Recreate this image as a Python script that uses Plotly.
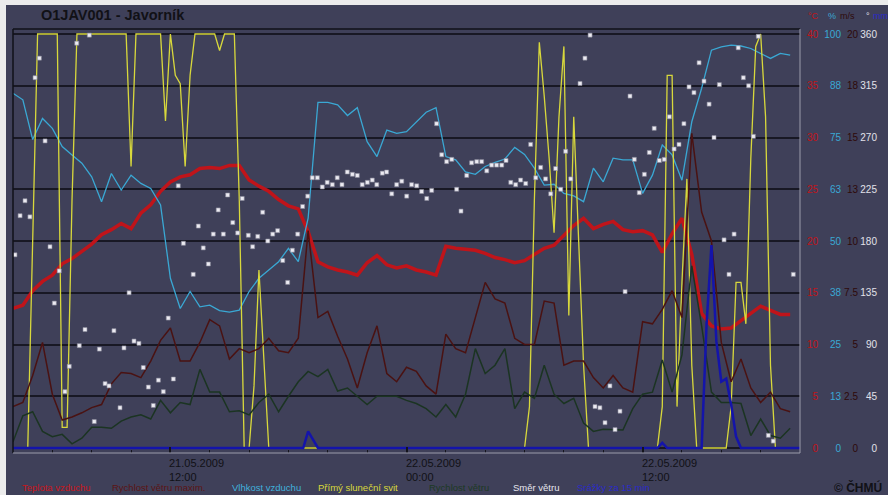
import pandas as pd
import plotly.graph_objects as go

START = "2009-05-21 04:00"
END = "2009-05-22 20:00"

# 30-minute series
temp = [13.5, 13.8, 15.2, 16.1, 16.7, 17.8, 18.3, 19.0, 19.7, 20.6,
        21.1, 21.7, 21.2, 22.7, 23.5, 24.8, 25.7, 26.2, 26.4, 27.0,
        27.1, 27.0, 27.3, 27.3, 25.9, 25.3, 24.8, 24.0, 23.4, 23.1,
        20.9, 18.0, 17.5, 17.2, 17.0, 16.7, 17.9, 18.6, 17.7, 17.4,
        17.6, 17.2, 17.0, 16.7, 19.5, 19.3, 19.2, 19.1, 18.8, 18.4,
        18.2, 17.9, 18.1, 18.7, 19.3, 19.6, 20.6, 21.5, 22.2, 21.2,
        21.6, 21.9, 21.1, 20.9, 21.0, 20.6, 18.9, 20.7, 22.2, 18.7,
        13.0, 11.8, 11.5, 11.6, 12.3, 13.0, 13.7, 13.3, 12.9, 12.9]

humidity = [85.7, 84.1, 74.5, 79.6, 77.2, 72.8, 70.8, 68.8, 65.5, 59.5,
            66.3, 62.3, 65.9, 63.9, 62.7, 58.7, 41.0, 33.7, 37.8, 34.1,
            34.5, 33.2, 32.8, 33.3, 37.8, 41.0, 43.0, 45.0, 48.2, 45.0,
            55.5, 83.5, 83.5, 82.9, 80.3, 82.2, 74.0, 70.4, 76.8, 76.0,
            76.4, 78.8, 81.1, 82.2, 70.4, 69.6, 66.7, 66.1, 68.0, 69.0,
            69.8, 72.6, 70.9, 67.6, 63.5, 63.7, 61.5, 60.9, 59.5, 67.6,
            64.3, 70.0, 69.6, 69.6, 61.5, 65.9, 73.2, 70.8, 64.7, 78.8,
            86.9, 96.1, 96.9, 97.3, 97.1, 96.5, 95.3, 94.1, 95.3, 94.9]

wind_max = [2.0, 2.2, 3.5, 5.1, 2.6, 1.35, 1.5, 1.7, 1.95, 2.1,
            3.1, 3.65, 3.6, 3.4, 4.2, 5.2, 5.8, 4.2, 4.2, 5.1,
            6.2, 5.9, 4.3, 4.8, 4.6, 4.8, 5.3, 4.7, 4.6, 5.3,
            10.5, 6.3, 6.6, 5.4, 4.3, 2.9, 4.6, 5.9, 3.6, 3.2,
            3.9, 3.7, 3.0, 2.6, 5.5, 4.8, 4.6, 6.3, 8.0, 7.2,
            7.0, 5.3, 5.0, 5.0, 7.1, 7.0, 4.0, 4.2, 4.2, 3.4,
            2.9, 3.5, 2.9, 2.7, 6.1, 6.0, 6.7, 7.6, 6.3, 15.2,
            11.4, 10.0, 5.1, 3.2, 4.3, 2.9, 2.2, 2.7, 1.9, 1.75]

wind = [0.3, 1.56, 1.75, 0.8, 0.55, 0.66, 0.2, 0.47, 1.0, 1.0,
        0.95, 1.3, 1.5, 1.6, 1.4, 2.3, 1.7, 2.2, 2.1, 3.8,
        2.7, 2.7, 1.75, 1.8, 1.6, 2.2, 2.6, 1.75, 2.5, 3.2,
        3.7, 3.45, 3.8, 2.75, 2.9, 2.5, 2.1, 2.5, 2.5, 2.5,
        2.3, 2.15, 1.9, 1.5, 2.1, 1.5, 2.6, 4.8, 3.6, 4.0,
        4.8, 1.9, 2.7, 2.4, 4.0, 2.6, 2.15, 2.4, 1.2, 0.8,
        0.9, 0.87, 0.87, 1.9, 2.6, 2.7, 4.25, 2.7, 4.5, 8.8,
        5.9, 2.7, 2.2, 2.2, 2.15, 0.6, 1.4, 0.6, 0.47, 0.95]

# 15-minute series
sunshine = [0, 0, 0, 0, 50, 100, 100, 100, 100, 100, 5, 5, 60, 100, 100, 100, 100, 100, 100, 100,
            100, 100, 100, 100, 68, 100, 100, 100, 100, 100, 100, 79, 100, 90, 88, 68, 90, 100, 100, 100,
            100, 100, 96, 100, 100, 100, 60, 0, 0, 15, 43, 20, 0, 0, 0, 0, 0, 0, 0, 0,
            0, 0, 0, 0, 0, 0, 0, 0, 0, 0, 0, 0, 0, 0, 0, 0, 0, 0, 0, 0,
            0, 0, 0, 0, 0, 0, 0, 0, 0, 0, 0, 0, 0, 0, 0, 0, 0, 0, 0, 0,
            0, 0, 0, 0, 0, 10, 60, 98, 85, 70, 52, 80, 97, 32, 80, 50, 20, 0, 0, 0,
            0, 0, 0, 0, 0, 0, 0, 0, 0, 0, 0, 0, 10, 90, 90, 10, 40, 65, 20, 0,
            0, 0, 0, 0, 0, 0, 10, 40, 40, 30, 70, 97, 100, 80, 20, 0, 0, 0, 0, 0,
            0]

precip = [0, 0, 0, 0, 0, 0, 0, 0, 0, 0, 0, 0, 0, 0, 0, 0, 0, 0, 0, 0,
          0, 0, 0, 0, 0, 0, 0, 0, 0, 0, 0, 0, 0, 0, 0, 0, 0, 0, 0, 0,
          0, 0, 0, 0, 0, 0, 0, 0, 0, 0, 0, 0, 0, 0, 0, 0, 0, 0, 0, 0,
          0.16, 0.08, 0, 0, 0, 0, 0, 0, 0, 0, 0, 0, 0, 0, 0, 0, 0, 0, 0, 0,
          0, 0, 0, 0, 0, 0, 0, 0, 0, 0, 0, 0, 0, 0, 0, 0, 0, 0, 0, 0,
          0, 0, 0, 0, 0, 0, 0, 0, 0, 0, 0, 0, 0, 0, 0, 0, 0, 0, 0, 0,
          0, 0, 0, 0, 0, 0, 0, 0, 0, 0, 0, 0, 0.05, 0, 0, 0, 0, 0, 0, 0,
          0, 1.19, 1.96, 1.03, 0.64, 0.67, 0.42, 0.11, 0, 0, 0, 0, 0, 0, 0, 0, 0, 0, 0, 0,
          0]

# wind direction samples (hours after start, degrees)
dir_hours = [0.10, 0.36, 0.61, 0.86, 1.12, 1.34, 1.63, 1.88, 2.10, 2.35,
             2.64, 2.86, 3.24, 3.37, 3.66, 3.88, 4.13, 4.39, 4.68, 4.88,
             5.13, 5.44, 5.64, 5.90, 6.15, 6.40, 6.62, 6.88, 7.13, 7.39,
             7.64, 7.89, 8.15, 8.40, 8.66, 9.16, 9.42, 9.67, 9.93,
             10.18, 10.43, 10.69, 10.91, 11.17, 11.42, 11.65, 11.96, 12.18, 12.44,
             12.69, 12.95, 13.20, 13.45, 13.71, 13.96, 14.20, 14.47, 14.72, 14.98,
             15.21, 15.47, 15.72, 15.97, 16.23, 16.48, 16.72, 16.99, 17.25, 17.50,
             17.75, 18.01, 18.26, 18.49, 18.77, 18.99, 19.25, 19.50, 19.76,
             20.01, 20.26, 20.52, 20.77, 21.03, 21.28, 21.53, 21.79, 22.04, 22.30,
             22.55, 22.77, 23.06, 23.31, 23.57, 23.82, 24.08, 24.33, 24.58, 24.84,
             25.06, 25.30, 25.55, 25.80, 26.06, 26.31, 26.57, 26.82, 27.07, 27.33,
             27.58, 27.84, 28.09, 28.35, 28.82, 29.07, 29.33, 29.58, 29.83,
             30.09, 30.34, 30.60, 30.85, 31.11, 31.36, 31.58, 31.83, 32.09, 32.34,
             32.59, 32.85, 33.10, 33.36, 33.60, 33.85, 34.10, 34.36, 34.61, 34.87,
             35.12, 35.38, 35.63, 35.90, 36.14, 36.39, 36.65, 36.86, 37.12, 37.39,
             37.63, 37.88, 38.39, 38.64, 39.66]
direction = [168, 202, 215, 201, 322, 339, 267, 175, 126, 154,
             49, 71, 352, 89, 103, 359, 23, 86, 56, 54,
             102, 35, 87, 135, 93, 91, 70, 53, 37, 59,
             49, 113, 60, 228, 178, 151, 193, 174, 160,
             186, 207, 186, 220, 196, 187, 217, 185, 175, 184,
             205, 180, 186, 189, 163, 144, 172, 186, 210, 219,
             235, 235, 227, 231, 229, 235, 229, 240, 238, 237,
             229, 231, 233, 229, 239, 240, 221, 229, 232,
             219, 229, 228, 223, 217, 224, 282, 255, 249, 251,
             225, 206, 237, 248, 249, 249, 241, 246, 246, 246,
             250, 231, 229, 233, 230, 264, 235, 244, 234, 221,
             243, 225, 258, 234, 317, 339, 359, 36, 35,
             22, 54, 16, 32, 136, 306, 251, 222, 238, 257,
             278, 250, 251, 288, 260, 264, 282, 314, 309, 335,
             319, 299, 270, 316, 181, 151, 186, 348, 322, 315,
             271, 358, 11, 6, 151]

# axis tick labels
temp_ticks = [0, 5, 10, 15, 20, 25, 30, 35, 40]
hum_ticks = [0, 12.5, 25, 37.5, 50, 62.5, 75, 87.5, 100]
hum_text = ["0", "13", "25", "38", "50", "63", "75", "88", "100"]
wind_ticks = [0, 2.5, 5, 7.5, 10, 12.5, 15, 17.5, 20]
wind_text = ["0", "2.5", "5", "7.5", "10", "13", "15", "18", "20"]
dir_ticks = [0, 45, 90, 135, 180, 225, 270, 315, 360]
date_ticks = ["2009-05-21 12:00", "2009-05-22 00:00", "2009-05-22 12:00"]
date_labels = ["21.05.2009<br>12:00", "22.05.2009<br>00:00", "22.05.2009<br>12:00"]

legend_items = [("Teplota vzduchu", "#c8161c", 20),
                ("Rychlost větru maxim.", "#5c1414", 110),
                ("Vlhkost vzduchu", "#3fb0dc", 230),
                ("Přímý sluneční svit", "#d9d93a", 316),
                ("Rychlost větru", "#1d3a24", 427),
                ("Směr větru", "#e6e6ee", 511),
                ("Srážky za 15 min", "#2a2ac8", 575)]

RED = "#c0141a"
CYAN = "#3aa8d4"
YELLOW = "#d8d83c"
MAROON = "#4a1212"
GREEN = "#1b3422"
BLUE = "#1414aa"
WHITE = "#ecebf2"
BG = "#3f4059"
FONT = "Liberation Sans"

t30 = pd.date_range(START, periods=len(temp), freq="30min")
t15 = pd.date_range(START, periods=len(sunshine), freq="15min")
t_dir = pd.Timestamp(START) + pd.to_timedelta(dir_hours, unit="h")


def rng(m):
    return [-0.01208 * m, 1.01208 * m]


fig = go.Figure()
fig.add_trace(go.Scatter(x=t15, y=precip, yaxis="y5", mode="lines",
                         line=dict(color=BLUE, width=2.5)))
fig.add_trace(go.Scatter(x=t30, y=wind, yaxis="y3", mode="lines",
                         line=dict(color=GREEN, width=1.5)))
fig.add_trace(go.Scatter(x=t30, y=wind_max, yaxis="y3", mode="lines",
                         line=dict(color=MAROON, width=1.5)))
fig.add_trace(go.Scatter(x=t30, y=humidity, yaxis="y2", mode="lines",
                         line=dict(color=CYAN, width=1.3)))
fig.add_trace(go.Scatter(x=t15, y=sunshine, yaxis="y2", mode="lines",
                         line=dict(color=YELLOW, width=1.3)))
fig.add_trace(go.Scatter(x=t30, y=temp, yaxis="y", mode="lines",
                         line=dict(color=RED, width=3.5)))
fig.add_trace(go.Scatter(x=t_dir, y=direction, yaxis="y4", mode="markers",
                         marker=dict(symbol="square", size=4, color=WHITE,
                                     line=dict(width=0.6, color="#8c8c9c"))))

XD = (800 - 13) / 875


def px(x):
    return (x - 13) / 875


def py(y):
    return (453 - y) / 424


def side_axis(pos, color, tickvals, ticktext, r, **kw):
    d = dict(range=r, tickvals=tickvals, ticktext=ticktext, anchor="free",
             position=pos, side="left", showline=False, zeroline=False,
             ticks="", automargin=False,
             tickfont=dict(family=FONT, size=10, color=color))
    d.update(kw)
    return d


fig.update_layout(
    width=888, height=495,
    margin=dict(l=13, r=0, t=29, b=42),
    paper_bgcolor=BG, plot_bgcolor=BG,
    showlegend=False,
    xaxis=dict(type="date", domain=[0, XD], range=[START, END],
               showgrid=False, zeroline=False, showline=False,
               tickvals=date_ticks, ticks="inside", ticklen=6, tickwidth=2,
               tickcolor="#14141c", showticklabels=False,
               minor=dict(tickvals=pd.date_range(START, END, freq="2h"),
                          ticks="inside", ticklen=3, tickwidth=1,
                          tickcolor="#14141c", showgrid=False)),
    yaxis=side_axis(px(818), RED, temp_ticks, [str(v) for v in temp_ticks], rng(40),
                    showgrid=True, gridcolor="#181824", gridwidth=1.5),
    yaxis2=side_axis(px(841), CYAN, hum_ticks, hum_text, rng(100),
                     overlaying="y", showgrid=False),
    yaxis3=side_axis(px(858), "#2e0a0a", wind_ticks, wind_text, rng(20),
                     overlaying="y", showgrid=False),
    yaxis4=side_axis(px(877), "#e2e2ea", dir_ticks, [str(v) for v in dir_ticks], rng(360),
                     overlaying="y", showgrid=False),
    yaxis5=dict(range=rng(4), overlaying="y", visible=False),
)

shapes = [
    dict(type="line", xref="paper", yref="paper", x0=0, x1=0, y0=0, y1=1,
         line=dict(color="#101018", width=1.5)),
    dict(type="line", xref="paper", yref="paper", x0=0, x1=XD, y0=1, y1=1,
         line=dict(color="#101018", width=1.5)),
    dict(type="line", xref="paper", yref="paper", x0=XD, x1=XD, y0=0, y1=1,
         line=dict(color="#9c9cac", width=1)),
    dict(type="line", xref="paper", yref="paper", x0=0, x1=XD, y0=0, y1=0,
         line=dict(color="#9c9cac", width=1)),
    dict(type="rect", xref="paper", yref="paper", x0=px(0), x1=px(6),
         y0=py(495), y1=py(0), fillcolor="#ececec", line=dict(width=0), layer="above"),
    dict(type="rect", xref="paper", yref="paper", x0=px(0), x1=px(888),
         y0=py(5), y1=py(0), fillcolor="#ececec", line=dict(width=0), layer="above"),
]
fig.update_layout(shapes=shapes)

ann = []
ann.append(dict(text="<b>O1JAV001 - Javorník</b>", x=px(39), y=py(15),
                xref="paper", yref="paper", xanchor="left", yanchor="middle",
                showarrow=False, font=dict(family=FONT, size=14.5, color="#111116")))
for tv, tl in zip(date_ticks, date_labels):
    ann.append(dict(text=tl, x=tv, xref="x", y=py(455), yref="paper",
                    xanchor="left", yanchor="top", align="left", xshift=-3,
                    showarrow=False, font=dict(family=FONT, size=11, color="#111116")))
for label, color, x in legend_items:
    ann.append(dict(text=label, x=px(x), y=py(487), xref="paper", yref="paper",
                    xanchor="left", yanchor="middle", showarrow=False,
                    font=dict(family=FONT, size=9.5, color=color)))
ann.append(dict(text="<b>© ČHMÚ</b>", x=px(884), y=py(487), xref="paper", yref="paper",
                xanchor="right", yanchor="middle", showarrow=False,
                font=dict(family=FONT, size=12, color="#111116")))
for label, color, x in [("°C", RED, 806), ("%", CYAN, 826), ("m/s", "#2e0a0a", 838),
                        ("°", "#e2e2ea", 864), ("mm", "#2a2ac8", 871)]:
    ann.append(dict(text=label, x=px(x), y=py(16), xref="paper", yref="paper",
                    xanchor="left", yanchor="middle", showarrow=False,
                    font=dict(family=FONT, size=9, color=color)))
fig.update_layout(annotations=ann)

fig.write_html("out.html")
